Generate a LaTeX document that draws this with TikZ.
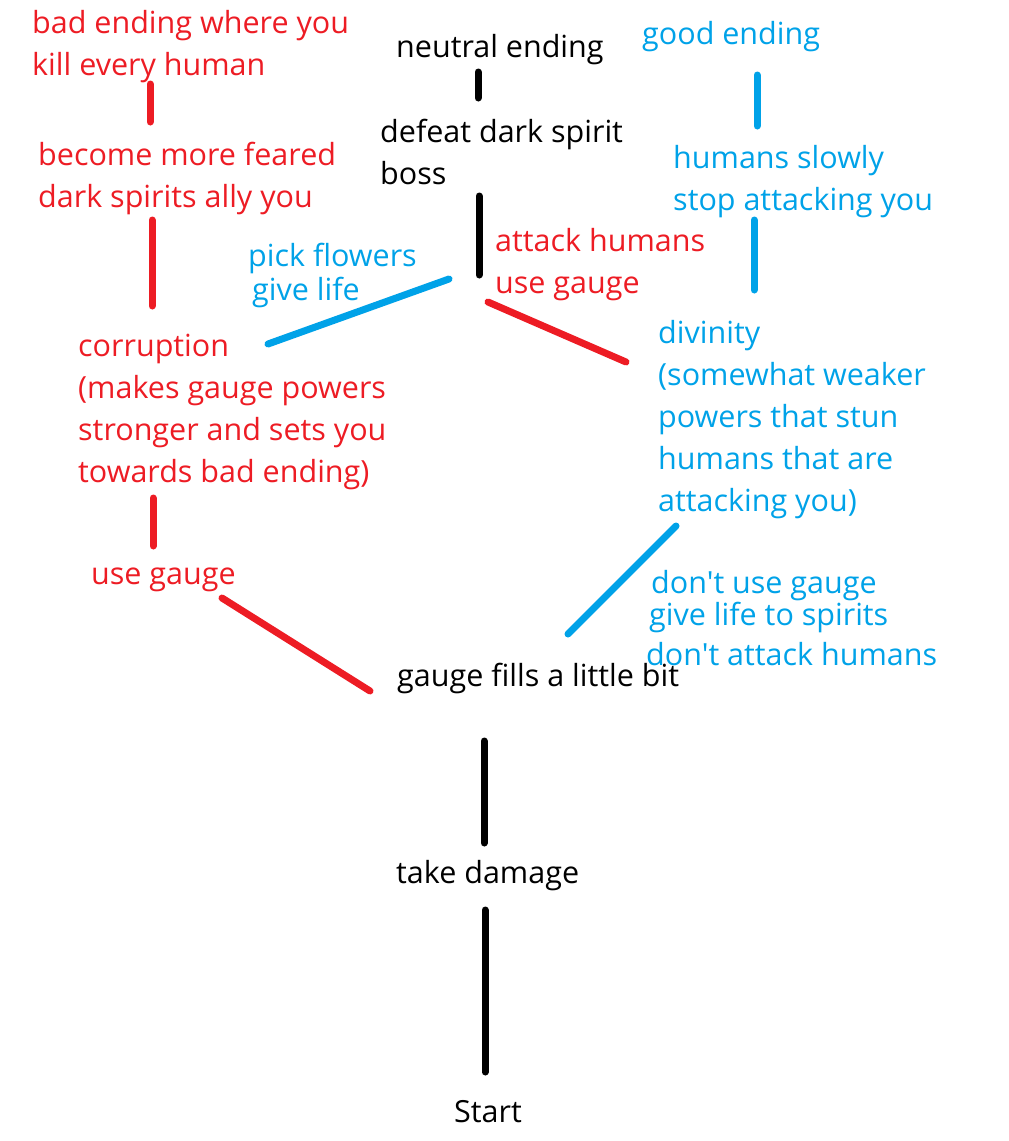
\documentclass[tikz,border=0pt]{standalone}
\usepackage{fontspec}
\newfontfamily\diagfont{Open Sans}
\usetikzlibrary{positioning}

\definecolor{paintred}{RGB}{237,28,36}
\definecolor{paintblue}{RGB}{0,162,232}

\tikzset{
  txt/.style={anchor=base west, inner sep=0pt, align=left, font=\diagfont\fontsize{30.5}{42}\selectfont},
  redtxt/.style={txt, text=paintred},
  bluetxt/.style={txt, text=paintblue},
  stroke/.style={line width=7pt, line cap=round},
  redline/.style={stroke, draw=paintred},
  blueline/.style={stroke, draw=paintblue},
  blackline/.style={stroke, draw=black}
}

\begin{document}
\begin{tikzpicture}[x=1pt, y=-1pt]
            \useasboundingbox (0,0) rectangle (1009,1141);

            % Endings (base anchor = last line)
            \node[redtxt] (badend) at (32,75) {bad ending where you\\kill every human};
            \node[txt] (neutralend) at (396,57) {neutral ending};
            \node[bluetxt] (goodend) at (642,44) {good ending};

            % Second row
            \node[txt] (defeatboss) at (380,184) {defeat dark spirit\\boss};
            \node[bluetxt] (humansstop) at (673,210) {humans slowly\\stop attacking you};
            \node[redtxt] (feared) at (38,207) {become more feared\\dark spirits ally you};

            % Choices
            \node[bluetxt] (flowers) at (248,300) {pick flowers\\[-8pt]\hspace*{4pt}give life};
            \node[redtxt] (attack) at (495,293) {attack humans\\use gauge};

            % Paths
            \node[redtxt] (corruption) at (78,482) {corruption\\(makes gauge powers\\stronger and sets you\\towards bad ending)};
            \node[bluetxt] (divinity) at (658,511) {divinity\\(somewhat weaker\\powers that stun\\humans that are\\attacking you)};

            % Lower choices
            \node[redtxt] (usegauge) at (91,584) {use gauge};
            \node[bluetxt] (dontuse) at (651,665) {don't use gauge\\[-10pt]\hspace*{-2pt}give life to spirits\\[-2pt]\hspace*{-5pt}don't attack humans};

            % Trunk
            \node[txt] (gaugefills) at (397,686) {gauge fills a little bit};
            \node[txt] (damage) at (396,883) {take damage};
            \node[txt] (start) at (454,1122) {Start};

            % Line ends
            \coordinate (badend-s) at (150,84);
            \coordinate (feared-n) at (150,122);
            \coordinate (neutralend-s) at (478,72);
            \coordinate (defeatboss-n) at (478,98);
            \coordinate (goodend-s) at (757,75);
            \coordinate (humansstop-n) at (757,126);
            \coordinate (feared-s) at (152,220);
            \coordinate (corruption-n) at (152,306);
            \coordinate (defeatboss-s) at (479,196);
            \coordinate (attack-n) at (479,275);
            \coordinate (humansstop-s) at (754,220);
            \coordinate (divinity-n) at (754,290);
            \coordinate (corruption-e) at (268,344);
            \coordinate (flowers-e) at (449,279);
            \coordinate (attack-s) at (488,302);
            \coordinate (divinity-w) at (626,362);
            \coordinate (corruption-s) at (153,498);
            \coordinate (usegauge-n) at (153,546);
            \coordinate (usegauge-e) at (222,598);
            \coordinate (gaugefills-w) at (370,691);
            \coordinate (gaugefills-n) at (568,634);
            \coordinate (divinity-s) at (676,526);
            \coordinate (gaugefills-s) at (484,741);
            \coordinate (damage-n) at (484,843);
            \coordinate (damage-s) at (485,910);
            \coordinate (start-n) at (485,1072);

            % Connectors
            \draw[redline] (badend-s) -- (feared-n);
            \draw[blackline] (neutralend-s) -- (defeatboss-n);
            \draw[blueline] (goodend-s) -- (humansstop-n);
            \draw[redline] (feared-s) -- (corruption-n);
            \draw[blackline] (defeatboss-s) -- (attack-n);
            \draw[blueline] (humansstop-s) -- (divinity-n);
            \draw[blueline] (corruption-e) -- (flowers-e);
            \draw[redline] (attack-s) -- (divinity-w);
            \draw[redline] (corruption-s) -- (usegauge-n);
            \draw[redline] (usegauge-e) -- (gaugefills-w);
            \draw[blueline] (gaugefills-n) -- (divinity-s);
            \draw[blackline] (gaugefills-s) -- (damage-n);
            \draw[blackline] (damage-s) -- (start-n);
        \end{tikzpicture}
\end{document}
